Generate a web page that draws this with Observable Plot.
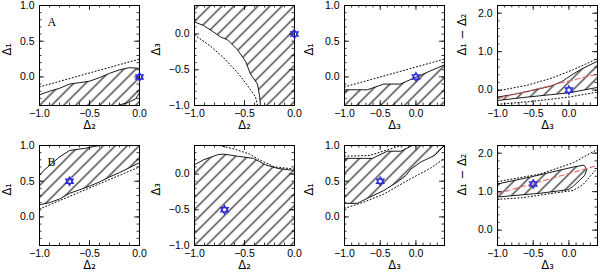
<!DOCTYPE html>
<html><head><meta charset="utf-8">
<script src="https://cdn.jsdelivr.net/npm/d3@7"></script>
<script src="https://cdn.jsdelivr.net/npm/@observablehq/plot@0.6"></script>
<style>
body{margin:0;background:#fff;}
#root{position:relative;width:600px;height:276px;overflow:hidden;background:#fff;}
.panel{position:absolute;}
</style></head><body><div id="root"></div>
<script>
// ---------- tick values ----------
const xTickLabels = [-1, -0.5, 0];
const yTickLabelsA = [0, 0.5, 1];     // domain [-0.4, 1]
const yTickLabelsB = [-1, -0.5, 0];   // domain [-1, 0.4]
const yTickLabelsC = [0, 1, 2];       // domain [-0.4, 2.2]

// ---------- panel 1 (A, top row): Δ1 vs Δ2 ----------
const p1Upper = [[-1,-0.25],[-0.9,-0.2],[-0.8,-0.16],[-0.7,-0.1],[-0.6,-0.08],[-0.5,-0.06],[-0.4,-0.01],[-0.3,0.05],[-0.2,0.1],[-0.1,0.13],[0,0.12]];
const p1Corners = [[0,-0.4],[-1,-0.4]];
const p1Inner = [[-0.22,-0.4],[-0.12,-0.36],[-0.04,-0.31],[0,-0.22]];
const p1Dotted = [[-1,-0.14],[0,0.25]];
const p1Marker = [[0,0]];

// ---------- panel 2: Δ3 vs Δ2 ----------
const p2Boundary = [[-1,0.17],[-0.91,0.12],[-0.81,0.03],[-0.74,-0.04],[-0.67,-0.08],[-0.57,-0.22],[-0.49,-0.38],[-0.44,-0.56],[-0.37,-0.7],[-0.35,-0.86],[-0.34,-1]];
const p2Corners = [[0,-1],[0,0.4],[-1,0.4]];
const p2Dotted = [[-1,-0.01],[-0.84,-0.17],[-0.71,-0.33],[-0.57,-0.54],[-0.47,-0.72],[-0.39,-0.88],[-0.37,-1]];
const p2Marker = [[0,0]];

// ---------- panel 3: Δ1 vs Δ3 ----------
const p3Boundary = [[-1,-0.18],[-0.68,-0.18],[-0.45,-0.1],[-0.22,-0.1],[0.4,0.17]];
const p3Corners = [[0.4,-0.4],[-1,-0.4]];
const p3Dotted = [[-1,-0.14],[0.4,0.25]];
const p3Marker = [[0,0]];

// ---------- panel 4: Δ1−Δ2 vs Δ3 ----------
const p4Upper = [[-1,-0.18],[-0.8,-0.12],[-0.59,-0.04],[-0.4,0.04],[-0.26,0.1],[-0.1,0.22],[-0.03,0.31],[0.06,0.42],[0.2,0.57],[0.4,0.75]];
const p4Lower = [[-1,-0.27],[-0.63,-0.19],[-0.26,-0.12],[0,-0.07],[0.2,0],[0.4,0.07]];
const p4DotUpper = [[-1,-0.02],[-0.6,0.12],[-0.26,0.3],[0.06,0.53],[0.4,0.82]];
const p4DotLower = [[-1,-0.37],[-0.5,-0.29],[0,-0.18],[0.4,-0.05]];
const p4Red = [[-1,-0.22],[0.4,0.42]];
const p4Marker = [[0,0]];

// ---------- panel 5 (B, bottom row): Δ1 vs Δ2 ----------
const p5Upper = [[-1,0.58],[-0.95,0.66],[-0.9,0.72],[-0.8,0.84],[-0.7,0.93],[-0.55,0.96],[-0.4,1.0]];
const p5Corners = [[0,1]];
const p5Lower = [[0,0.76],[-0.1,0.69],[-0.2,0.62],[-0.3,0.56],[-0.4,0.49],[-0.5,0.43],[-0.6,0.38],[-0.7,0.33],[-0.8,0.25],[-0.9,0.2],[-1,0.17]];
const p5Dotted = [[-1,0.11],[0,0.7]];
const p5Marker = [[-0.7,0.5]];

// ---------- panel 6: Δ3 vs Δ2 ----------
const p6Boundary = [[-1,0.13],[-0.91,0.2],[-0.77,0.27],[-0.71,0.28],[-0.57,0.25],[-0.41,0.22],[-0.29,0.13],[-0.17,0.08],[0,0.05]];
const p6Corners = [[0,-1],[-1,-1]];
const p6Dotted = [[-0.75,0.4],[-0.6,0.35],[-0.45,0.28],[-0.35,0.2],[-0.2,0.1],[0,0.07]];
const p6Marker = [[-0.7,-0.5]];

// ---------- panel 7: Δ1 vs Δ3 ----------
const p7Upper = [[-1,0.82],[-0.61,0.82],[-0.4,0.92],[-0.21,0.92],[-0.07,0.99],[-0.05,1.0]];
const p7Lower = [[0.4,1.0],[0.26,0.86],[0.07,0.77],[-0.07,0.67],[-0.14,0.58],[-0.26,0.49],[-0.45,0.37],[-0.68,0.26],[-0.82,0.19],[-1,0.19]];
const p7DotUpper = [[-1,0.85],[-0.65,0.86],[-0.3,0.97],[-0.2,1.0]];
const p7DotLower = [[-1,0.12],[-0.75,0.2],[-0.45,0.32],[-0.1,0.52],[0.2,0.68],[0.4,0.82]];
const p7Marker = [[-0.5,0.5]];

// ---------- panel 8: Δ1−Δ2 vs Δ3 ----------
const p8Region = [[-1,1.2],[-0.54,1.38],[0.06,1.64],[0.21,1.69],[0.25,1.58],[0.22,1.42],[0.06,1.14],[-0.01,1.05],[-0.4,0.96],[-1,0.86]];
const p8DotUpper = [[-1,1.26],[-0.4,1.46],[0.06,1.75],[0.4,2.1]];
const p8DotLower = [[-1,0.8],[-0.66,0.84],[-0.26,0.95],[0.06,1.03],[0.2,1.19],[0.4,1.62]];
const p8Red = [[-1,0.95],[0.4,1.68]];
const p8Marker = [[-0.5,1.2]];

// ---------- labels ----------
const lblD1 = "Δ₁", lblD2 = "Δ₂", lblD3 = "Δ₃", lblD12 = "Δ₁ − Δ₂";

const root = document.getElementById("root");
const fmt = d3.format(".1f");
const X = d => d[0], Y = d => d[1];
const FRAME = 100, ML = 39, MR = 3, MT = 5, MB = 31;

function rng(a, b, s) { const n = Math.round((b - a) / s); return d3.range(n + 1).map(i => +(a + i * s).toFixed(3)); }

function panel(cfg) {
  const id = "hatch" + cfg.key;
  const [x0, x1] = cfg.xDomain, [y0, y1] = cfg.yDomain;
  const xMinor = rng(x0, x1, 0.1), yMinor = rng(y0, y1, cfg.yMinorStep);
  const xMajor = xTickLabels, yMajor = cfg.yTicks;
  const marks = [];
  marks.push(Plot.line(cfg.region, {x: X, y: Y, fill: `url(#${id})`, stroke: "none", clip: true}));
  for (const s of cfg.solid) marks.push(Plot.line(s, {x: X, y: Y, stroke: "black", strokeWidth: 0.9, clip: true}));
  for (const s of cfg.dotted) marks.push(Plot.line(s, {x: X, y: Y, stroke: "black", strokeWidth: 1, strokeDasharray: "1,2.4", clip: true}));
  if (cfg.red) marks.push(Plot.line(cfg.red, {x: X, y: Y, stroke: "#e06a6a", strokeWidth: 1.1, strokeDasharray: "5,3", clip: true}));
  marks.push(Plot.frame({stroke: "black", strokeWidth: 1}));
  const tk = (vals, len) => [
    Plot.ruleX(vals, {y1: y0, y2: y0, insetBottom: len, stroke: "black", strokeWidth: 0.8}),
    Plot.ruleX(vals, {y1: y1, y2: y1, insetTop: len, stroke: "black", strokeWidth: 0.8}),
  ];
  const tky = (vals, len) => [
    Plot.ruleY(vals, {x1: x0, x2: x0, insetLeft: len, stroke: "black", strokeWidth: 0.8}),
    Plot.ruleY(vals, {x1: x1, x2: x1, insetRight: len, stroke: "black", strokeWidth: 0.8}),
  ];
  marks.push(...tk(xMinor, 2.5), ...tk(xMajor, 5), ...tky(yMinor, 2.5), ...tky(yMajor, 5));
  marks.push(Plot.dot(cfg.marker, {x: X, y: Y, symbol: "triangle", r: 2.8, stroke: "#2a2ad8", fill: "none", strokeWidth: 1.2}));
  marks.push(Plot.dot(cfg.marker, {x: X, y: Y, symbol: "triangle", r: 2.8, rotate: 180, stroke: "#2a2ad8", fill: "none", strokeWidth: 1.2}));
  marks.push(Plot.axisX(xMajor, {anchor: "bottom", tickSize: 0, tickPadding: 4, tickFormat: fmt, label: null, fontSize: 10.5}));
  marks.push(Plot.axisY(yMajor, {anchor: "left", tickSize: 0, tickPadding: 5, tickFormat: fmt, label: null, fontSize: 10.5}));
  marks.push(Plot.text([cfg.xLabel], {text: d => d, frameAnchor: "bottom", dy: cfg.xTitleDy, fontSize: 11.5, fontFamily: "DejaVu Sans"}));
  marks.push(Plot.text([cfg.yLabel], {text: d => d, frameAnchor: "left", dx: cfg.yTitleDx, rotate: -90, fontSize: 11.5, fontFamily: "DejaVu Sans"}));
  if (cfg.tag) marks.push(Plot.text([cfg.tag], {text: d => d, frameAnchor: "top-left", dx: 8, dy: 12, textAnchor: "start", fontSize: 12, fontFamily: "Liberation Serif"}));

  const svg = Plot.plot({
    width: ML + FRAME + MR, height: MT + FRAME + MB,
    marginLeft: ML, marginRight: MR, marginTop: MT, marginBottom: MB,
    x: {domain: cfg.xDomain, axis: null},
    y: {domain: cfg.yDomain, axis: null},
    style: {font: "10.5px 'Liberation Sans'", overflow: "visible", background: "transparent", color: "black"},
    marks
  });
  const defs = d3.select(svg).insert("defs", ":first-child");
  const s = 12;
  defs.append("pattern").attr("id", id).attr("patternUnits", "userSpaceOnUse")
    .attr("width", s).attr("height", s)
    .append("path").attr("d", `M0,${s} L${s},0 M-2,2 L2,-2 M${s-2},${s+2} L${s+2},${s-2}`)
    .attr("stroke", "black").attr("stroke-width", 1.05).attr("fill", "none");
  const div = document.createElement("div");
  div.className = "panel";
  div.style.left = cfg.left + "px";
  div.style.top = cfg.top + "px";
  div.appendChild(svg);
  root.appendChild(div);
}

const colLeft = [0, 155, 305, 458];
const rowTop = [0, 140];
const yTitleDx = [-32, -38, -35, -35];
const xTitleDy = [23, 23];

const panels = [
  {key: 1, col: 0, row: 0, tag: "A", xDomain: [-1, 0], yDomain: [-0.4, 1], yTicks: yTickLabelsA, yMinorStep: 0.1, xLabel: lblD2, yLabel: lblD1,
   region: [...p1Upper, ...p1Corners], solid: [p1Upper, p1Inner], dotted: [p1Dotted], marker: p1Marker},
  {key: 2, col: 1, row: 0, xDomain: [-1, 0], yDomain: [-1, 0.4], yTicks: yTickLabelsB, yMinorStep: 0.1, xLabel: lblD2, yLabel: lblD3,
   region: [...p2Boundary, ...p2Corners], solid: [p2Boundary], dotted: [p2Dotted], marker: p2Marker},
  {key: 3, col: 2, row: 0, xDomain: [-1, 0.4], yDomain: [-0.4, 1], yTicks: yTickLabelsA, yMinorStep: 0.1, xLabel: lblD3, yLabel: lblD1,
   region: [...p3Boundary, ...p3Corners], solid: [p3Boundary], dotted: [p3Dotted], marker: p3Marker},
  {key: 4, col: 3, row: 0, xDomain: [-1, 0.4], yDomain: [-0.4, 2.2], yTicks: yTickLabelsC, yMinorStep: 0.2, xLabel: lblD3, yLabel: lblD12,
   region: [...p4Upper, ...p4Lower.slice().reverse()], solid: [p4Upper, p4Lower], dotted: [p4DotUpper, p4DotLower], red: p4Red, marker: p4Marker},
  {key: 5, col: 0, row: 1, tag: "B", xDomain: [-1, 0], yDomain: [-0.4, 1], yTicks: yTickLabelsA, yMinorStep: 0.1, xLabel: lblD2, yLabel: lblD1,
   region: [...p5Upper, ...p5Corners, ...p5Lower], solid: [p5Upper, p5Lower], dotted: [p5Dotted], marker: p5Marker},
  {key: 6, col: 1, row: 1, xDomain: [-1, 0], yDomain: [-1, 0.4], yTicks: yTickLabelsB, yMinorStep: 0.1, xLabel: lblD2, yLabel: lblD3,
   region: [...p6Boundary, ...p6Corners], solid: [p6Boundary], dotted: [p6Dotted], marker: p6Marker},
  {key: 7, col: 2, row: 1, xDomain: [-1, 0.4], yDomain: [-0.4, 1], yTicks: yTickLabelsA, yMinorStep: 0.1, xLabel: lblD3, yLabel: lblD1,
   region: [...p7Upper, ...p7Lower], solid: [p7Upper, p7Lower], dotted: [p7DotUpper, p7DotLower], marker: p7Marker},
  {key: 8, col: 3, row: 1, xDomain: [-1, 0.4], yDomain: [-0.4, 2.2], yTicks: yTickLabelsC, yMinorStep: 0.2, xLabel: lblD3, yLabel: lblD12,
   region: p8Region, solid: [[...p8Region, p8Region[0]]], dotted: [p8DotUpper, p8DotLower], red: p8Red, marker: p8Marker},
];

for (const p of panels) {
  panel({...p, left: colLeft[p.col], top: rowTop[p.row], yTitleDx: yTitleDx[p.col], xTitleDy: xTitleDy[p.row]});
}
</script>
</body></html>
